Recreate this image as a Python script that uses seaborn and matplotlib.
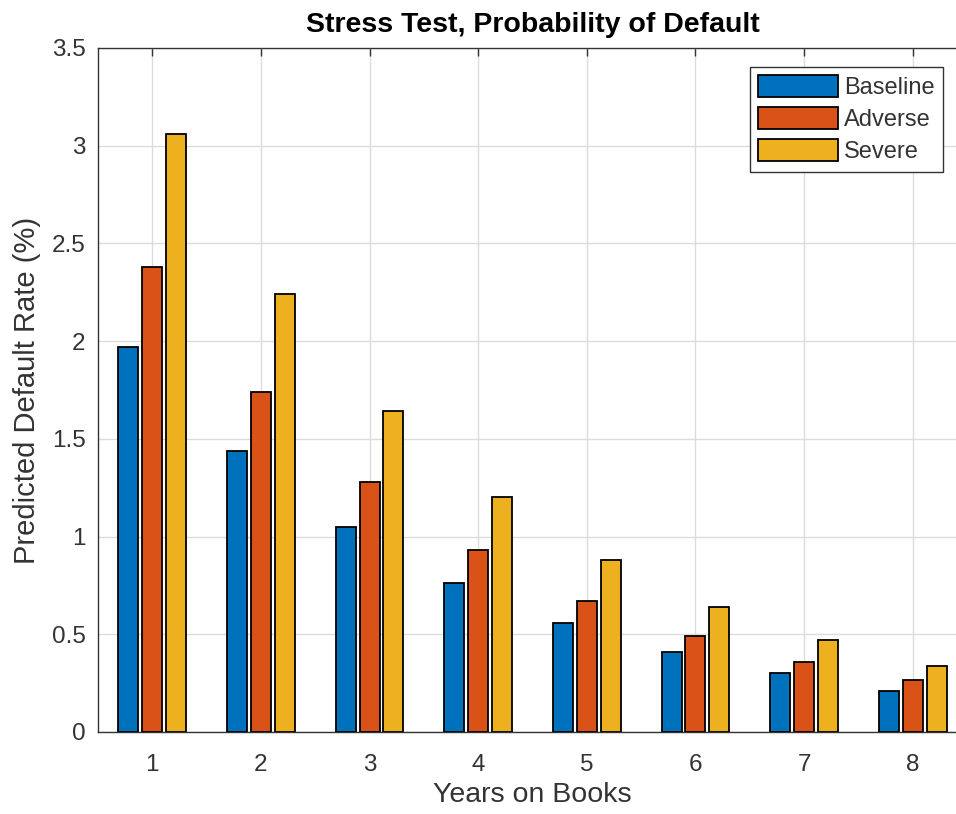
import pandas as pd
import matplotlib
matplotlib.use("Agg")
import matplotlib.pyplot as plt
import seaborn as sns

years = ["1", "2", "3", "4", "5", "6", "7", "8"]
scenarios = ["Baseline", "Adverse", "Severe"]
baseline = [1.97, 1.44, 1.05, 0.76, 0.56, 0.41, 0.30, 0.21]
adverse = [2.38, 1.74, 1.28, 0.93, 0.67, 0.49, 0.36, 0.265]
severe = [3.06, 2.24, 1.64, 1.20, 0.88, 0.64, 0.47, 0.34]
colors = ["#0072BD", "#D95319", "#EDB120"]

df = pd.DataFrame({
    "year": years * 3,
    "rate": baseline + adverse + severe,
    "scenario": [s for s in scenarios for _ in years],
})

sns.set_style("white")
plt.rcParams["font.family"] = ["Liberation Sans", "DejaVu Sans"]

fig = plt.figure(figsize=(9.56, 8.14), dpi=100)
ax = fig.add_axes([98 / 956, 82 / 814, 869 / 956, 684 / 814])

sns.barplot(data=df, x="year", y="rate", hue="scenario", hue_order=scenarios,
            palette=colors, width=0.66, gap=0.16, edgecolor="black",
            linewidth=1.3, saturation=1, ax=ax, zorder=3)

ax.set_xlim(-0.5, 7.5)
ax.set_ylim(0, 3.5)
ax.set_yticks([0, 0.5, 1, 1.5, 2, 2.5, 3, 3.5])
ax.set_yticklabels(["0", "0.5", "1", "1.5", "2", "2.5", "3", "3.5"])
ax.grid(True, color="#dcdcdc", linewidth=1, zorder=0)
ax.set_axisbelow(True)

for s in ax.spines.values():
    s.set_visible(True)
    s.set_color("#333333")
    s.set_linewidth(1.0)
ax.tick_params(axis="both", which="major", labelsize=17.5, colors="#333333",
               length=6, width=1, top=True, right=True, direction="in")
ax.tick_params(axis="x", pad=16)
ax.tick_params(axis="y", pad=9)

ax.set_xlabel("Years on Books", fontsize=20.5, color="#333333", labelpad=4)
ax.set_ylabel("Predicted Default Rate (%)", fontsize=21, color="#333333", labelpad=8)
ax.set_title("Stress Test, Probability of Default", fontsize=20.5,
             fontweight="bold", color="#000000", pad=11.5)

leg = ax.legend(loc="upper right", bbox_to_anchor=(943 / 956, 1 - 67 / 814),
                bbox_transform=fig.transFigure, borderaxespad=0, fontsize=17,
                fancybox=False, framealpha=1, edgecolor="#333333",
                handlelength=3.4, handleheight=1.05, handletextpad=0.25,
                labelspacing=0.34, borderpad=0.35, title=None)
leg.get_frame().set_linewidth(1.0)
for t in leg.get_texts():
    t.set_color("#333333")

fig.savefig("out.png", dpi=100)
